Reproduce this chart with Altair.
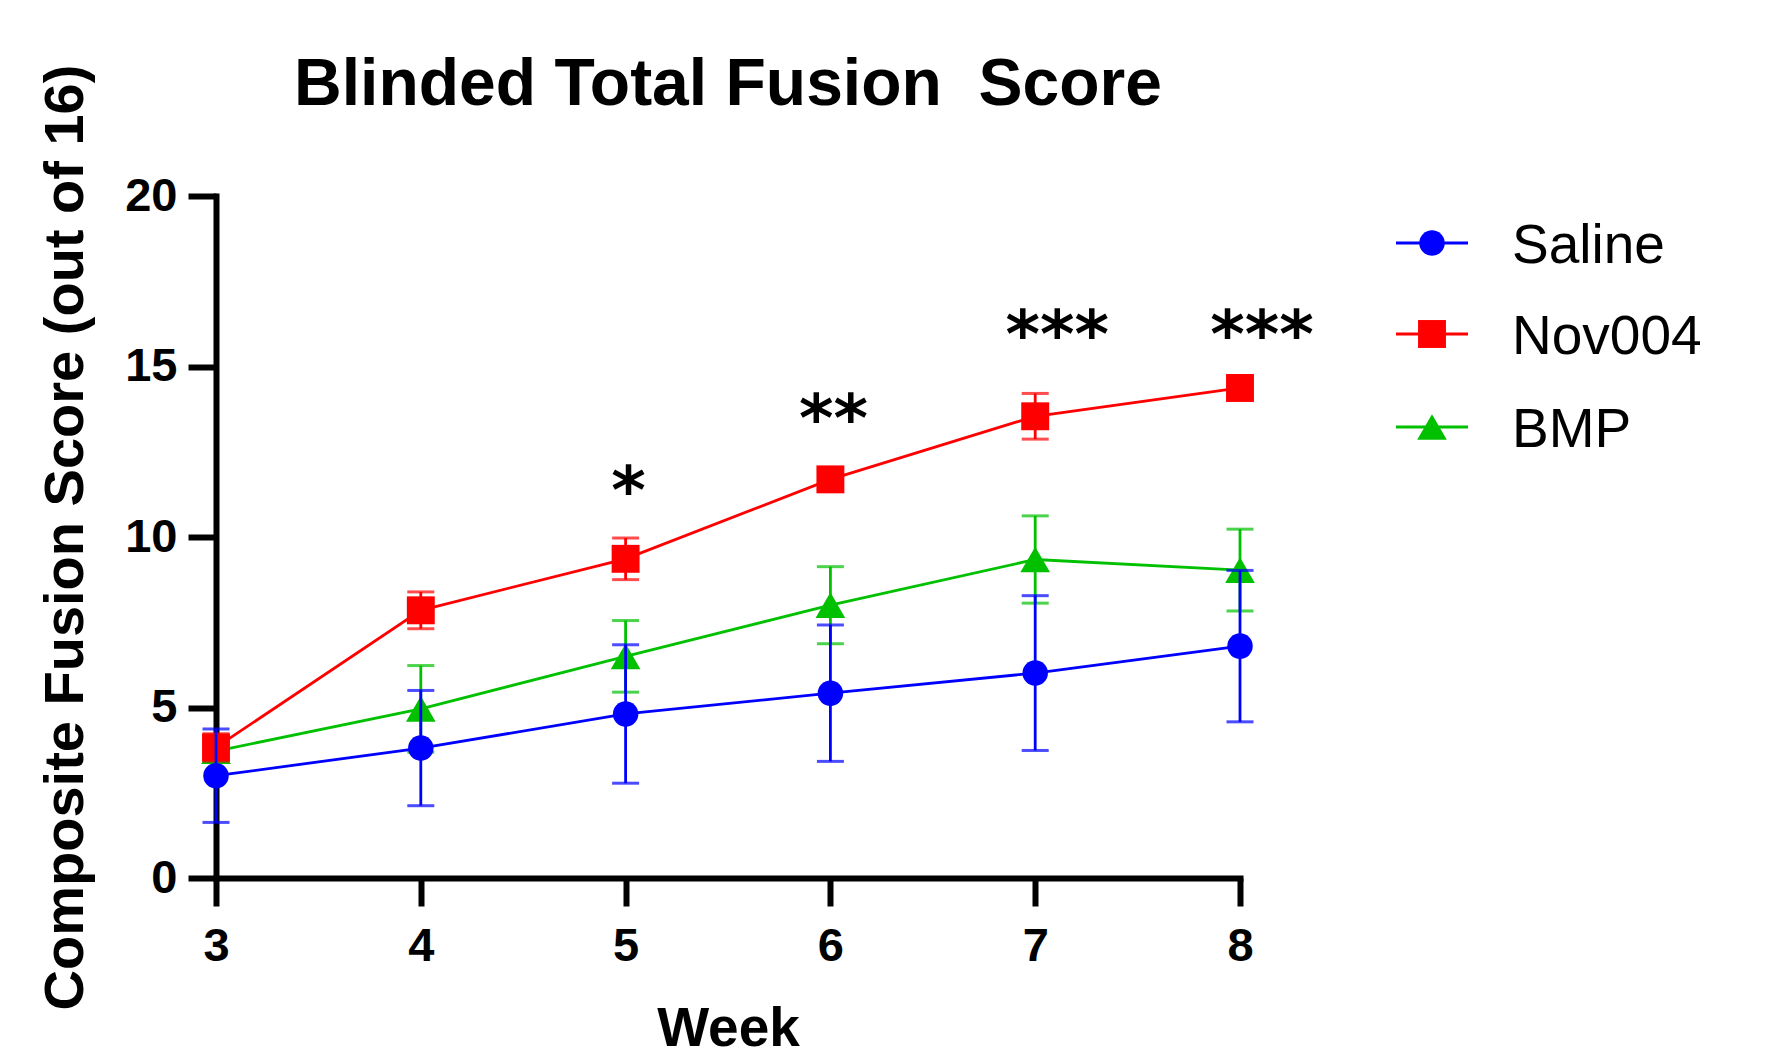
import altair as alt
import pandas as pd

weeks = [3, 4, 5, 6, 7, 8]
series = ["Saline", "Nov004", "BMP"]
saline_mean = [3.0, 3.81, 4.81, 5.42, 6.01, 6.8]
saline_err = [1.37, 1.69, 2.03, 2.0, 2.27, 2.22]
nov_mean = [3.83, 7.85, 9.36, 11.69, 13.54, 14.37]
nov_err = [0.4, 0.54, 0.61, 0.3, 0.67, 0.3]
bmp_mean = [3.72, 4.96, 6.5, 8.0, 9.34, 9.03]
bmp_err = [0.3, 1.27, 1.05, 1.13, 1.28, 1.2]
colors = ["#0000FF", "#FF0000", "#00C000"]
shapes = ["circle", "square", "triangle-up"]
sizes = [650, 780, 880]
sig_weeks = [5, 6, 7, 8]
sig_labels = ["*", "**", "***", "***"]
sig_level = [11.82, 13.94, 16.38, 16.38]

FONT = "Liberation Sans"

rows = []
for name, means, errs in [("Saline", saline_mean, saline_err),
                          ("Nov004", nov_mean, nov_err),
                          ("BMP", bmp_mean, bmp_err)]:
    for w, m, e in zip(weeks, means, errs):
        rows.append({"series": name, "week": w, "mean": m,
                     "lo": m - e, "hi": m + e})
df = pd.DataFrame(rows)
sig_df = pd.DataFrame({"week": sig_weeks, "label": sig_labels, "level": sig_level})
leg_df = pd.DataFrame({"series": series})

xs = alt.Scale(domain=[3, 8], nice=False, zero=False)
ys = alt.Scale(domain=[0, 20], nice=False)

x_axis = alt.Axis(title="Week", values=weeks, format="d", grid=False,
                  domainWidth=6, domainColor="black", domainCap="square",
                  tickWidth=6, tickColor="black", tickSize=28,
                  labelFont=FONT, labelFontSize=47, labelFontWeight="bold",
                  labelColor="black", labelPadding=17, labelFlush=False,
                  titleFont=FONT, titleFontSize=55, titleFontWeight="bold",
                  titleColor="black", titlePadding=33)
y_axis = alt.Axis(title="Composite Fusion Score (out of 16)", values=[0, 5, 10, 15, 20],
                  grid=False, domainWidth=6, domainColor="black", domainCap="square",
                  tickWidth=6, tickColor="black", tickSize=28,
                  labelFont=FONT, labelFontSize=47, labelFontWeight="bold",
                  labelColor="black", labelPadding=11, labelFlush=False,
                  titleFont=FONT, titleFontSize=56, titleFontWeight="bold",
                  titleColor="black", titlePadding=30)

base = alt.Chart(df)
layers = []
# axes carrier
layers.append(base.mark_point(opacity=0).encode(
    x=alt.X("week:Q", scale=xs, axis=x_axis),
    y=alt.Y("mean:Q", scale=ys, axis=y_axis)))

order = ["BMP", "Nov004", "Saline"]
for s in order:
    i = series.index(s)
    c = colors[i]
    sub = base.transform_filter(alt.datum.series == s)
    layers.append(sub.mark_line(strokeWidth=2.8, color=c).encode(
        x=alt.X("week:Q", scale=xs), y=alt.Y("mean:Q", scale=ys)))
    layers.append(sub.mark_rule(strokeWidth=2.8, color=c).encode(
        x=alt.X("week:Q", scale=xs), y=alt.Y("lo:Q", scale=ys), y2="hi:Q"))
    layers.append(sub.mark_tick(orient="horizontal", size=27, thickness=3, color=c).encode(
        x=alt.X("week:Q", scale=xs), y=alt.Y("lo:Q", scale=ys)))
    layers.append(sub.mark_tick(orient="horizontal", size=27, thickness=3, color=c).encode(
        x=alt.X("week:Q", scale=xs), y=alt.Y("hi:Q", scale=ys)))
    layers.append(sub.mark_point(shape=shapes[i], size=sizes[i], filled=True,
                                 color=c, opacity=1).encode(
        x=alt.X("week:Q", scale=xs), y=alt.Y("mean:Q", scale=ys)))

# significance stars
sig = alt.Chart(sig_df)
layers.append(sig.transform_filter(alt.datum.label != "***").mark_text(
    font="DejaVu Sans", fontWeight="bold", fontSize=66, baseline="alphabetic",
    align="center", dy=38, dx=3, color="black").encode(
    x=alt.X("week:Q", scale=xs), y=alt.Y("level:Q", scale=ys), text="label:N"))
layers.append(sig.transform_filter(alt.datum.label == "***").mark_text(
    font="DejaVu Sans", fontWeight="bold", fontSize=66, baseline="alphabetic",
    align="center", dy=38, dx=22, color="black").encode(
    x=alt.X("week:Q", scale=xs), y=alt.Y("level:Q", scale=ys), text="label:N"))

# legend
leg = alt.Chart(leg_df)
row_y = [47, 138, 231]
for i, s in enumerate(series):
    one = leg.transform_filter(alt.datum.series == s)
    layers.append(one.mark_rule(strokeWidth=3.2, color=colors[i]).encode(
        x=alt.value(1180), x2=alt.value(1252), y=alt.value(row_y[i])))
    layers.append(one.mark_point(shape=shapes[i], size=sizes[i], filled=True,
                                 color=colors[i], opacity=1).encode(
        x=alt.value(1216), y=alt.value(row_y[i])))
    layers.append(one.mark_text(font=FONT, fontSize=55, align="left",
                                baseline="alphabetic", color="black").encode(
        x=alt.value(1296), y=alt.value(row_y[i] + 20), text="series:N"))

chart = alt.layer(*layers).properties(
    width=1024, height=682,
    background="white",
    title=alt.TitleParams("Blinded Total Fusion\u00a0 Score", font=FONT, fontSize=66,
                          fontWeight="bold", color="black", anchor="middle",
                          frame="group", offset=-55),
    padding={"left": 29, "top": 44, "right": 5, "bottom": 0},
).configure_view(stroke="transparent", strokeWidth=0)

chart.save("out.html", embed_options={"renderer": "svg", "actions": False})
